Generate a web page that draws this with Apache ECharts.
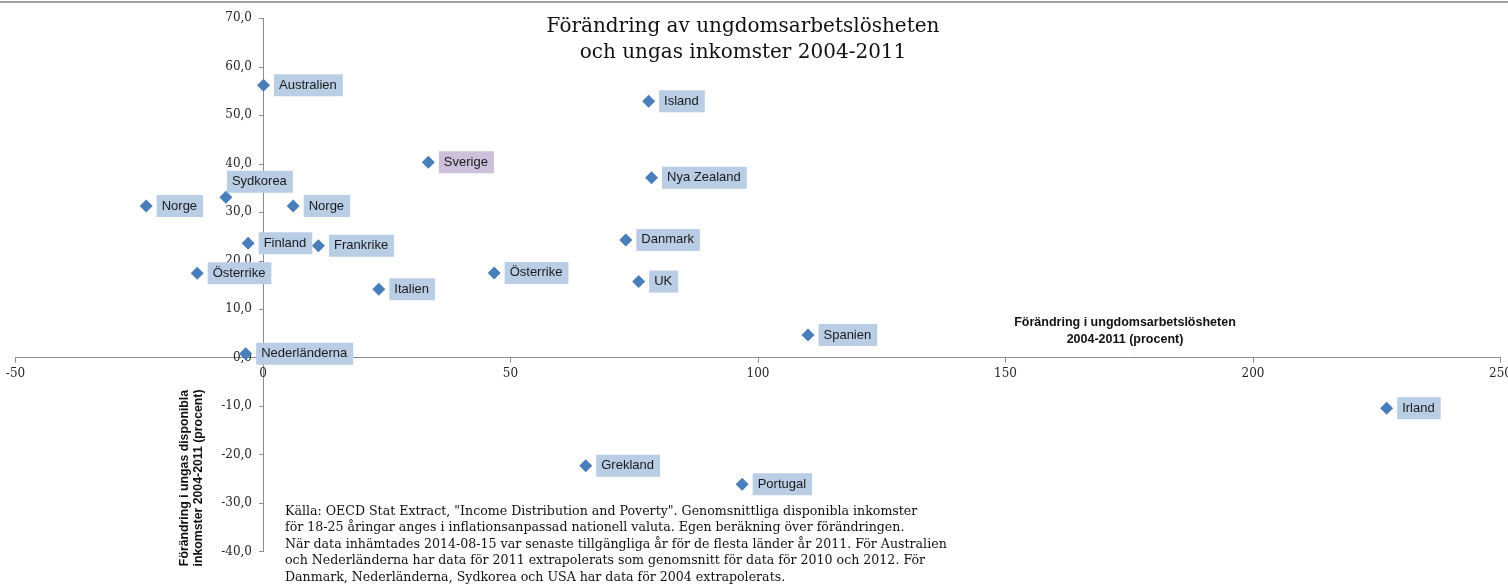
<!DOCTYPE html>
<html>
<head>
<meta charset="utf-8">
<script src="https://cdn.jsdelivr.net/npm/echarts@6/dist/echarts.min.js"></script>
<style>
html,body{margin:0;padding:0;background:#fff;}
#chart{width:1508px;height:587px;}
</style>
</head>
<body>
<div id="chart"></div>
<script>
// ---- Data ----
const countries = ["Australien","Sydkorea","Norge","Norge","Finland","Frankrike","Österrike","Italien","Nederländerna","Sverige","Island","Nya Zealand","Danmark","Österrike","UK","Spanien","Irland","Grekland","Portugal"];
const unemploymentChange = [0.1,-7.5,-23.6,6.1,-3.0,11.2,-13.3,23.4,-3.5,33.4,77.9,78.5,73.3,46.7,75.9,110.1,227.0,65.2,96.8];
const incomeChange = [56.2,33.1,31.3,31.3,23.6,23.1,17.4,14.1,0.8,40.3,52.9,37.1,24.3,17.5,15.7,4.7,-10.4,-22.3,-26.1];
const xTicks = {min:-50, max:250, interval:50};
const yTicks = {min:-40, max:70, interval:10};
const titleText = "Förändring av ungdomsarbetslösheten\noch ungas inkomster 2004-2011";
const xAxisTitle = "Förändring i ungdomsarbetslösheten\n2004-2011 (procent)";
const yAxisTitle = "Förändring i ungas disponibla\ninkomster 2004-2011 (procent)";
const sourceText = "Källa: OECD Stat Extract, \"Income Distribution and Poverty\". Genomsnittliga disponibla inkomster\nför 18-25 åringar anges i inflationsanpassad nationell valuta. Egen beräkning över förändringen.\nNär data inhämtades 2014-08-15 var senaste tillgängliga år för de flesta länder år 2011. För Australien\noch Nederländerna har data för 2011 extrapolerats som genomsnitt för data för 2010 och 2012. För\nDanmark, Nederländerna, Sydkorea och USA har data för 2004 extrapolerats.";

const highlight = "Sverige";

const seriesData = countries.map((c, i) => {
  const d = { name: c, value: [unemploymentChange[i], incomeChange[i]] };
  if (c === highlight) d.label = { backgroundColor: '#ccc0da' };
  if (c === "Sydkorea") d.label = { position: 'top', distance: 0, offset: [34, 2] };
  return d;
});

const W = 1508, H = 587;
const grid = {left: 15.5, right: 7.5, top: 18.3, bottom: 35.3};
const gw = W - grid.left - grid.right, gh = H - grid.top - grid.bottom;
// place axes so they cross at zero (labels follow the axis line)
const yAxisOffset = -((0 - xTicks.min) / (xTicks.max - xTicks.min)) * gw;
const xAxisOffset = -((0 - yTicks.min) / (yTicks.max - yTicks.min)) * gh;

const chart = echarts.init(document.getElementById('chart'), null, {renderer: 'canvas'});
const axisColor = '#8c8c8c';
const tickFont = {fontFamily: 'DejaVu Serif', fontSize: 12, color: '#262626'};

chart.setOption({
  animation: false,
  backgroundColor: '#fff',
  grid: Object.assign({containLabel: false, outerBoundsMode: 'none'}, grid),
  xAxis: {
    type: 'value', min: xTicks.min, max: xTicks.max, interval: xTicks.interval,
    position: 'bottom', offset: xAxisOffset,
    splitLine: {show: false},
    axisLine: {show: true, onZero: false, lineStyle: {color: axisColor, width: 1}},
    axisTick: {show: true, length: 5, lineStyle: {color: axisColor}},
    axisLabel: Object.assign({margin: 10, formatter: v => String(v)}, tickFont)
  },
  yAxis: {
    type: 'value', min: yTicks.min, max: yTicks.max, interval: yTicks.interval,
    position: 'left', offset: yAxisOffset,
    splitLine: {show: false},
    axisLine: {show: true, onZero: false, lineStyle: {color: axisColor, width: 1}},
    axisTick: {show: true, length: 4, lineStyle: {color: axisColor}},
    axisLabel: Object.assign({margin: 11, formatter: v => v.toFixed(1).replace('.', ',')}, tickFont)
  },
  series: [{
    type: 'scatter',
    symbol: 'diamond',
    symbolSize: 13,
    itemStyle: {color: '#4a7ebb', opacity: 1},
    z: 5,
    label: {
      show: true, formatter: '{b}', position: 'right', distance: 4,
      backgroundColor: '#b9cde5', padding: [4, 6, 4, 5],
      color: '#1a1a1a', fontFamily: 'Liberation Sans', fontSize: 13, lineHeight: 14
    },
    data: seriesData
  }],
  graphic: [
    {type: 'line', shape: {x1: 0, y1: 2, x2: W, y2: 2}, style: {stroke: '#808080', lineWidth: 1.5}, silent: true},
    {type: 'text', x: 743, y: 14, style: {text: titleText, fontFamily: 'DejaVu Serif', fontSize: 20, lineHeight: 26, fill: '#111', textAlign: 'center'}},
    {type: 'text', x: 1125, y: 314, style: {text: xAxisTitle, fontFamily: 'Liberation Sans', fontWeight: 'bold', fontSize: 12.5, lineHeight: 17, fill: '#111', textAlign: 'center'}},
    {type: 'text', x: 178, y: 478, rotation: Math.PI / 2, style: {text: yAxisTitle, fontFamily: 'Liberation Sans', fontWeight: 'bold', fontSize: 12.3, lineHeight: 14, fill: '#111', textAlign: 'center', textVerticalAlign: 'top'}},
    {type: 'text', x: 285, y: 503, style: {text: sourceText, fontFamily: 'DejaVu Serif', fontSize: 12.6, lineHeight: 16.6, fill: '#111', textAlign: 'left'}}
  ]
});
</script>
</body>
</html>
